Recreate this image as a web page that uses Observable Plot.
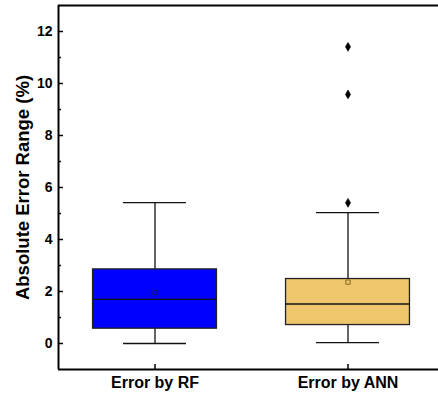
<!DOCTYPE html>
<html>
<head>
<meta charset="utf-8">
<script src="https://cdn.jsdelivr.net/npm/d3@7"></script>
<script src="https://cdn.jsdelivr.net/npm/@observablehq/plot@0.6"></script>
<style>
  html, body { margin: 0; padding: 0; background: #fff; overflow: hidden; }
  #chart svg { overflow: visible; }
</style>
</head>
<body>
<div id="chart"></div>
<script>
const categories = ["Error by RF", "Error by ANN"];
const whiskerLow = [0.0, 0.03];
const q1 = [0.57, 0.71];
const median = [1.70, 1.52];
const q3 = [2.85, 2.48];
const whiskerHigh = [5.42, 5.03];
const mean = [1.96, 2.36];
const outlierGroup = [1, 1, 1];
const outlierValues = [5.41, 9.58, 11.41];
const boxColors = ["#0000FF", "#EFC66C"];
const meanColors = ["#1a1a6e", "#8a6a2a"];
const yMajor = [0, 2, 4, 6, 8, 10, 12];
const yMinor = [1, 3, 5, 7, 9, 11];
const yTitle = "Absolute Error Range (%)";

const boxes = categories.map((c, i) => ({
  i, c, lo: whiskerLow[i], q1: q1[i], med: median[i], q3: q3[i], hi: whiskerHigh[i],
  mean: mean[i], fill: boxColors[i], mc: meanColors[i]
}));
const outliers = outlierValues.map((v, k) => ({ i: outlierGroup[k], v }));

const hw = 0.321;   // half box width (x units)
const cw = 0.163;   // half cap width

const font = "'Liberation Sans', Arial, sans-serif";

const chart = Plot.plot({
  width: 438,
  height: 397,
  marginLeft: 58,
  marginRight: 0,
  marginTop: 5,
  marginBottom: 28,
  style: { fontFamily: font, background: "#fff", overflow: "visible" },
  x: { domain: [-0.5, 1.5], range: [58, 444] },
  y: { domain: [-1, 13] },
  marks: [
    // whiskers
    Plot.ruleX(boxes, { x: "i", y1: "q3", y2: "hi", stroke: "#111", strokeWidth: 1.3 }),
    Plot.ruleX(boxes, { x: "i", y1: "lo", y2: "q1", stroke: "#111", strokeWidth: 1.3 }),
    Plot.ruleY(boxes, { y: "hi", x1: d => d.i - cw, x2: d => d.i + cw, stroke: "#111", strokeWidth: 1.3 }),
    Plot.ruleY(boxes, { y: "lo", x1: d => d.i - cw, x2: d => d.i + cw, stroke: "#111", strokeWidth: 1.3 }),
    // boxes
    Plot.rect(boxes, { x1: d => d.i - hw, x2: d => d.i + hw, y1: "q1", y2: "q3", fill: "fill", stroke: "#222", strokeWidth: 1.3 }),
    Plot.ruleY(boxes, { y: "med", x1: d => d.i - hw, x2: d => d.i + hw, stroke: "#111", strokeWidth: 1.3 }),
    // mean
    Plot.dot(boxes, { x: "i", y: "mean", symbol: "square", r: 2.4, fill: "none", stroke: "mc", strokeWidth: 1 }),
    // outliers
    Plot.dot(outliers, { x: "i", y: "v", symbol: "diamond", r: 2.7, fill: "#000", stroke: "#000", strokeWidth: 0.6 }),
    // frame lines
    Plot.ruleY([13, -1], { stroke: "#000", strokeWidth: 2 }),
    Plot.ruleX([-0.5], { stroke: "#000", strokeWidth: 2 }),
    // y axis
    Plot.axisY({ ticks: yMajor, tickSize: -5, tickPadding: 11, tickFormat: d => String(d),
      fontSize: 14, fontWeight: "bold", stroke: "#000", strokeWidth: 1.5, label: null, fill: "#000" }),
    Plot.axisY({ ticks: yMinor, tickSize: -3, tickFormat: () => "", label: null, stroke: "#000", strokeWidth: 1.5 }),
    // x axis
    Plot.axisX({ ticks: [0, 1], tickSize: -5, tickPadding: 12, tickFormat: i => categories[i],
      fontSize: 16, fontWeight: "bold", stroke: "#000", strokeWidth: 1.5, label: null, fill: "#000" }),
    // y title
    Plot.text([yTitle], { frameAnchor: "left", textAnchor: "middle", lineAnchor: "middle", rotate: -90, dx: -35, text: d => d,
      fontSize: 18.5, fontWeight: "bold", fill: "#000" })
  ]
});
document.getElementById("chart").append(chart);
</script>
</body>
</html>
